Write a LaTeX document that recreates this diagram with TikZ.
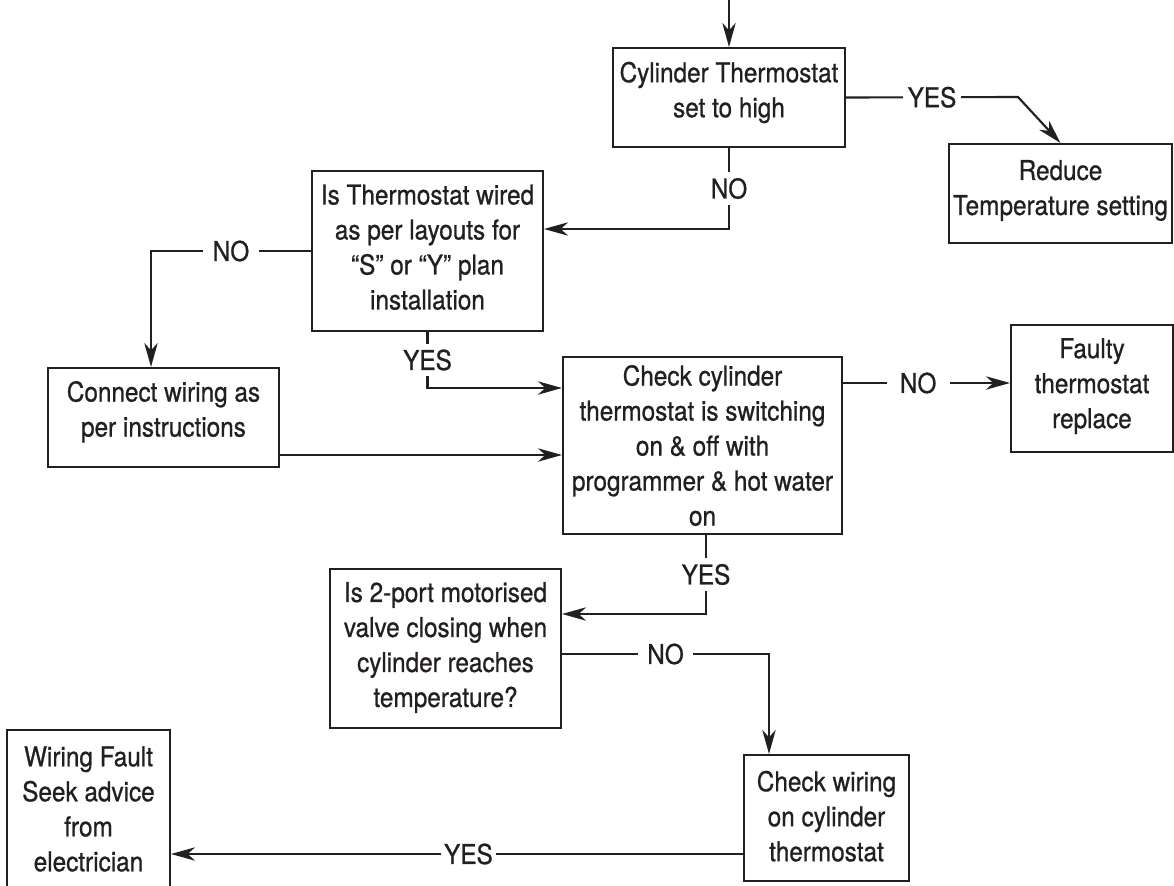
\documentclass[tikz,border=0pt]{standalone}
\usepackage{fontspec}
\setmainfont{TeX Gyre Heros}[FakeStretch=0.89, FakeBold=0.8]
\usetikzlibrary{arrows.meta,calc}
\definecolor{ink}{RGB}{35,31,32}
\newcommand{\lowpad}[1]{\rule[-#1]{0pt}{0pt}}
\begin{document}
\begin{tikzpicture}[x=0.75pt,y=-0.75pt,
  txt/.style={font=\fontsize{20.5pt}{26.25pt}\selectfont, text=ink},
  box/.style={txt, draw=ink, line width=1.5pt, inner sep=0pt, align=center},
  conn/.style={draw=ink, line width=1.6pt},
  arr/.style={conn, -{Stealth[length=18pt,width=10pt,inset=5.5pt]}},
  lab/.style={txt, fill=white, inner xsep=7pt, inner ysep=4.5pt},
  labs/.style={lab, inner xsep=3.5pt}
]
\useasboundingbox (0,0) rectangle (1174,885);

% boxes
\node[box, minimum width=174pt, minimum height=74.25pt] (cyl) at (729,97.5)
  {Cylinder Thermostat\\set to high\lowpad{12pt}};
\node[box, minimum width=167.25pt, minimum height=74.25pt] (reduce) at (1060.5,193.5)
  {Reduce\\Temperature setting\lowpad{9pt}};
\node[box, minimum width=173.25pt, minimum height=120pt] (wired) at (427.5,251)
  {Is Thermostat wired\\as per layouts for\\“S” or “Y” plan\\installation\lowpad{6pt}};
\node[box, minimum width=173.25pt, minimum height=74.25pt] (connect) at (163.5,417.5)
  {Connect wiring as\\per instructions\lowpad{13pt}};
\node[box, minimum width=209.25pt, minimum height=132.75pt] (check) at (702.5,445.5)
  {Check cylinder\\thermostat is switching\\on \& off with\\programmer \& hot water\\on};
\node[box, minimum width=121.5pt, minimum height=95.25pt] (faulty) at (1092,388.5)
  {Faulty\\thermostat\\replace\lowpad{8pt}};
\node[box, minimum width=173.25pt, minimum height=119.25pt] (valve) at (445.5,648.5)
  {Is 2-port motorised\\valve closing when\\cylinder reaches\\temperature?\lowpad{6pt}};
\node[box, minimum width=123.75pt, minimum height=94.5pt] (wiring) at (826.5,818)
  {Check wiring\\on cylinder\\thermostat\lowpad{3pt}};
\node[box, minimum width=122.25pt, minimum height=118.5pt] (fault) at (88.5,809)
  {Wiring Fault\\Seek advice\\from\\electrician};

% helper coordinates
\coordinate (top) at ($(cyl.north)+(0,-48)$);
\coordinate (c1) at (1018,97);
\coordinate (c2) at (729,229);
\coordinate (c3) at (151,251);
\coordinate (c4) at (427.5,388);
\coordinate (c5) at ($(connect.east)+(0,37.5)$);
\coordinate (c5e) at (c5 -| check.west);
\coordinate (c6s) at ($(check.south)+(3.5,0)$);
\coordinate (c6) at (706,614);
\coordinate (c7s) at ($(valve.east)+(0,5.5)$);
\coordinate (c7) at (769,654);
\coordinate (c8) at ($(check.east)+(0,-62.5)$);
\coordinate (c8e) at (c8 -| faulty.west);
\coordinate (c9) at ($(wiring.west)+(0,36)$);
\coordinate (c9e) at (c9 -| fault.east);

% connectors
\draw[arr] (top) -- (cyl.north);
\draw[arr] (cyl.east) -- node[labs]{YES} (c1) -- (reduce.north);
\draw[arr] (cyl.south) -- node[lab]{NO} (c2) -- (c2 -| wired.east);
\draw[arr] (wired.west) -- node[lab]{NO} (c3) -- (c3 |- connect.north);
\draw[arr] (wired.south) -- node[lab]{YES} (c4) -- (c4 -| check.west);
\draw[arr] (c5) -- (c5e);
\draw[arr] (c8) -- node[lab, pos=0.45, inner xsep=10pt]{NO} (c8e);
\draw[arr] (c6s) -- node[lab]{YES} (c6) -- (c6 -| valve.east);
\draw[arr] (c7s) -- node[lab]{NO} (c7) -- (c7 |- wiring.north);
\draw[arr] (c9) -- node[labs, pos=0.48, inner xsep=2.5pt]{YES} (c9e);
\end{tikzpicture}
\end{document}
